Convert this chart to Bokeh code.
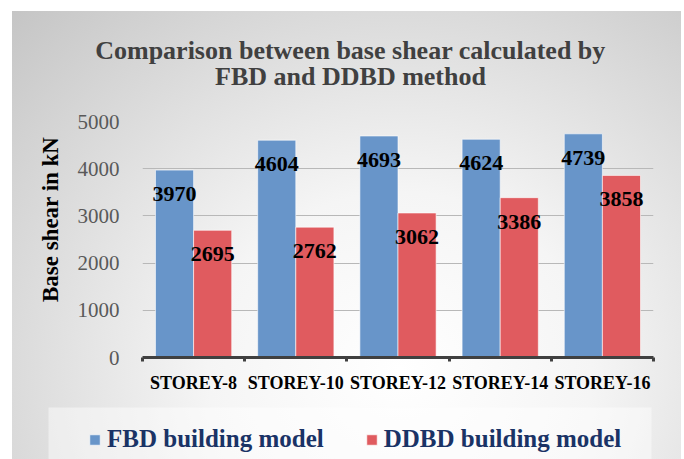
from bokeh.plotting import figure
from bokeh.layouts import column
from bokeh.models import (ColumnDataSource, Range1d, FixedTicker, LabelSet, Label,
                          Legend, LegendItem)
from bokeh.transform import dodge
from bokeh.embed import file_html
from bokeh.resources import INLINE

# ---- data ----
categories = ["STOREY-8", "STOREY-10", "STOREY-12", "STOREY-14", "STOREY-16"]
fbd_values = [3970, 4604, 4693, 4624, 4739]
ddbd_values = [2695, 2762, 3062, 3386, 3858]
y_ticks = [0, 1000, 2000, 3000, 4000, 5000]
series_names = ["FBD building model", "DDBD building model"]
title_lines = ["Comparison between base shear calculated by", "FBD and DDBD method"]
y_label = "Base shear in kN"

centers = [i + 0.5 for i in range(len(categories))]
bounds = [i for i in range(len(categories) + 1)]

src = ColumnDataSource(dict(
    x=centers,
    fbd=fbd_values,
    ddbd=ddbd_values,
    fbd_txt=[str(v) for v in fbd_values],
    ddbd_txt=[str(v) for v in ddbd_values],
))

SERIF = "Liberation Serif"
BLUE = "#6895c9"
RED = "#e05b5f"
W = 669


def clean(fig):
    fig.border_fill_color = None
    fig.background_fill_color = None
    fig.outline_line_color = None
    if hasattr(fig, "frame_align"):
        fig.frame_align = False


# ---------- title strip ----------
pt = figure(width=W, height=95, output_backend="svg", toolbar_location=None,
            x_range=Range1d(0, 1), y_range=Range1d(0, 1), x_axis_type=None, y_axis_type=None,
            min_border_left=0, min_border_right=0, min_border_top=0, min_border_bottom=0)
clean(pt)
pt.grid.grid_line_color = None
for line, yy in zip(title_lines, (56, 30)):
    pt.add_layout(Label(x=338, y=yy, x_units="screen", y_units="screen", text=line,
                        text_align="center", text_baseline="alphabetic",
                        text_font=SERIF, text_font_style="bold", text_font_size="26px",
                        text_color="#404040"))

# ---------- main chart ----------
p = figure(width=W, height=301, output_backend="svg", toolbar_location=None,
           x_range=Range1d(0, len(categories)), y_range=Range1d(y_ticks[0], y_ticks[-1]),
           min_border_left=130, min_border_right=28, min_border_top=15, min_border_bottom=50)
clean(p)

w = 0.373
off = w / 2
r1 = p.vbar(x=dodge("x", -off, range=p.x_range), top="fbd", width=w, source=src,
            fill_color=BLUE, line_color="white", line_alpha=0.6, line_width=1)
r2 = p.vbar(x=dodge("x", off, range=p.x_range), top="ddbd", width=w, source=src,
            fill_color=RED, line_color="white", line_alpha=0.6, line_width=1)

for col, txt, sgn in (("fbd", "fbd_txt", -1), ("ddbd", "ddbd_txt", 1)):
    p.add_layout(LabelSet(x=dodge("x", sgn * off, range=p.x_range), y=col, text=txt, source=src,
                          y_offset=-24, text_align="center", text_baseline="middle",
                          text_font=SERIF, text_font_style="bold", text_font_size="22px",
                          text_color="black"))

p.xaxis.ticker = FixedTicker(ticks=centers, minor_ticks=bounds)
p.xaxis.major_label_overrides = {c: n for c, n in zip(centers, categories)}
p.xaxis.major_tick_line_color = None
p.xaxis.major_tick_out = 0
p.xaxis.major_tick_in = 0
p.xaxis.minor_tick_line_color = "#404040"
p.xaxis.minor_tick_line_width = 3
p.xaxis.minor_tick_out = 4
p.xaxis.minor_tick_in = 0
p.xaxis.axis_line_color = "#404040"
p.xaxis.axis_line_width = 3
p.xaxis.major_label_standoff = 11
p.xaxis.major_label_text_font = SERIF
p.xaxis.major_label_text_font_style = "bold"
p.xaxis.major_label_text_font_size = "18px"
p.xaxis.major_label_text_color = "black"

p.yaxis.ticker = FixedTicker(ticks=y_ticks)
p.yaxis.axis_line_color = None
p.yaxis.major_tick_line_color = None
p.yaxis.minor_tick_line_color = None
p.yaxis.major_label_standoff = 17
p.yaxis.major_label_text_font = SERIF
p.yaxis.major_label_text_font_size = "21px"
p.yaxis.major_label_text_color = "#595959"
p.yaxis.axis_label = "\u00a0" * 7 + y_label
p.yaxis.axis_label_text_font = SERIF
p.yaxis.axis_label_text_font_style = "bold"
p.yaxis.axis_label_text_font_size = "23px"
p.yaxis.axis_label_text_color = "black"
p.yaxis.axis_label_standoff = 12

p.xgrid.grid_line_color = None
p.ygrid.ticker = FixedTicker(ticks=y_ticks)
p.ygrid.grid_line_color = "#b8b8b8"
p.ygrid.grid_line_width = 1

# ---------- legend strip ----------
pl = figure(width=W, height=52, output_backend="svg", toolbar_location=None,
            x_range=Range1d(0, 1), y_range=Range1d(0, 1), x_axis_type=None, y_axis_type=None,
            min_border_left=36, min_border_right=30, min_border_top=0, min_border_bottom=0)
clean(pl)
pl.background_fill_color = "white"
pl.background_fill_alpha = 0.45
pl.grid.grid_line_color = None
# legend keys share the chart's data source; they are hidden in this strip
k1 = pl.vbar(x="x", top="fbd", width=w, source=src, fill_color=BLUE,
             line_color="white", line_alpha=0.6, visible=False)
k2 = pl.vbar(x="x", top="ddbd", width=w, source=src, fill_color=RED,
             line_color="white", line_alpha=0.6, visible=False)

legend = Legend(items=[LegendItem(label=series_names[0], renderers=[k1]),
                       LegendItem(label=series_names[1], renderers=[k2])],
                orientation="horizontal", location=(40, 6))
legend.label_text_font = SERIF
legend.label_text_font_style = "bold"
legend.label_text_font_size = "25px"
legend.label_text_color = "#1a3366"
legend.glyph_width = 13
legend.glyph_height = 13
legend.label_standoff = 6
legend.spacing = 41
legend.padding = 0
legend.margin = 0
legend.background_fill_alpha = 0
legend.border_line_color = None
pl.add_layout(legend, "center")

layout = column(pt, p, pl, spacing=0)
layout.margin = (11, 0, 0, 12)
layout.styles = {"background": "radial-gradient(ellipse farthest-corner at 58% 80%, #ffffff 0%, #f5f5f5 35%, #c5c5c5 100%)"}

open("out.html", "w").write(file_html(layout, INLINE))
